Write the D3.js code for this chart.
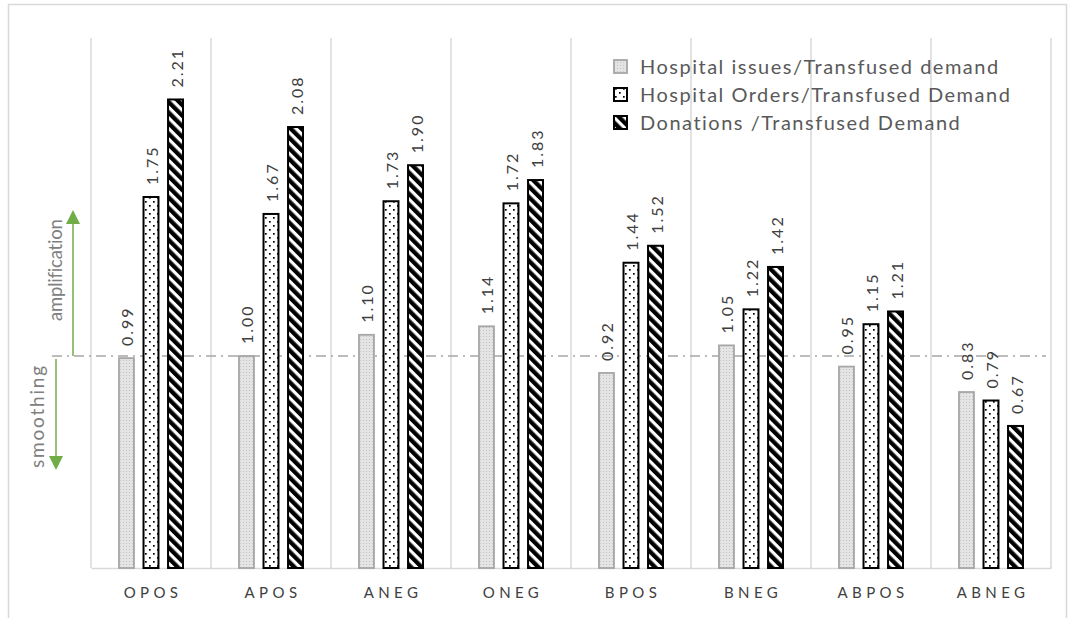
<!DOCTYPE html>
<html>
<head>
<meta charset="utf-8">
<script src="https://cdn.jsdelivr.net/npm/d3@7"></script>
<style>
  body { margin: 0; background: #fff; }
  text { font-family: Lato, "Open Sans", sans-serif; }
</style>
</head>
<body>
<div id="chart"></div>
<script>
const width = 1071;
const height = 618;

// data
const categories = ["OPOS", "APOS", "ANEG", "ONEG", "BPOS", "BNEG", "ABPOS", "ABNEG"];
const seriesNames = ["Hospital issues/Transfused demand", "Hospital Orders/Transfused Demand", "Donations /Transfused Demand"];
const issues = [0.99, 1.00, 1.10, 1.14, 0.92, 1.05, 0.95, 0.83];
const orders = [1.75, 1.67, 1.73, 1.72, 1.44, 1.22, 1.15, 0.79];
const donations = [2.21, 2.08, 1.90, 1.83, 1.52, 1.42, 1.21, 0.67];
const referenceValue = 1;
const series = [issues, orders, donations];

const svg = d3.select("#chart").append("svg")
  .attr("width", width)
  .attr("height", height);

const defs = svg.append("defs");

// light dotted fill for issues
const p1 = defs.append("pattern").attr("id", "pIssues")
  .attr("width", 3).attr("height", 3).attr("patternUnits", "userSpaceOnUse");
p1.append("rect").attr("width", 3).attr("height", 3).attr("fill", "#e4e4e4");
p1.append("rect").attr("width", 1).attr("height", 1).attr("fill", "#c4c4c4");

// black dots on white for orders
const p2 = defs.append("pattern").attr("id", "pOrders")
  .attr("width", 8).attr("height", 8).attr("patternUnits", "userSpaceOnUse");
p2.append("rect").attr("width", 8).attr("height", 8).attr("fill", "#fff");
p2.append("rect").attr("x", 1).attr("y", 1).attr("width", 1.7).attr("height", 1.7).attr("fill", "#000");
p2.append("rect").attr("x", 5).attr("y", 5).attr("width", 1.7).attr("height", 1.7).attr("fill", "#000");

// wide diagonal stripes for donations
const p3 = defs.append("pattern").attr("id", "pDonations")
  .attr("width", 7.5).attr("height", 7.5).attr("patternUnits", "userSpaceOnUse")
  .attr("patternTransform", "rotate(-45)");
p3.append("rect").attr("width", 7.5).attr("height", 7.5).attr("fill", "#fff");
p3.append("rect").attr("width", 4.3).attr("height", 7.5).attr("fill", "#000");

const fills = ["url(#pIssues)", "url(#pOrders)", "url(#pDonations)"];
const strokes = ["#a6a6a6", "#000", "#000"];
const strokeW = [1.8, 2, 2];

// outer frame
svg.append("rect")
  .attr("x", 8.5).attr("y", 4.5)
  .attr("width", 1058).attr("height", 620)
  .attr("fill", "none").attr("stroke", "#d9d9d9").attr("stroke-width", 1.5);

const x = d3.scaleBand().domain(categories).range([91, 1051]);
const y = d3.scaleLinear().domain([0, 2.5]).range([568, 38]);
const xs = d3.scaleBand().domain(d3.range(3)).range([-32, 32]).paddingInner(0.39).paddingOuter(0);

// category separators
svg.append("g").selectAll("line")
  .data(categories.concat(["end"]))
  .join("line")
  .attr("x1", (d, i) => 91 + i * x.bandwidth())
  .attr("x2", (d, i) => 91 + i * x.bandwidth())
  .attr("y1", y(2.5)).attr("y2", y(0))
  .attr("stroke", "#d9d9d9").attr("stroke-width", 1.5);

// axis line + category labels
const xAxis = svg.append("g")
  .attr("transform", `translate(0,${y(0)})`)
  .call(d3.axisBottom(x).tickSize(0).tickPadding(19));
xAxis.select(".domain").attr("stroke", "#d9d9d9").attr("stroke-width", 1.5);
xAxis.selectAll("text")
  .attr("font-family", "Lato, 'Open Sans', sans-serif")
  .attr("font-size", 15)
  .attr("letter-spacing", "4.4px")
  .attr("dx", "2px")
  .attr("fill", "#404040");

// reference line at 1.0
svg.append("line")
  .attr("x1", 52).attr("x2", 1046)
  .attr("y1", y(referenceValue)).attr("y2", y(referenceValue))
  .attr("stroke", "#a6a6a6").attr("stroke-width", 1.5)
  .attr("stroke-dasharray", "10,5,2,5");

// bars
series.forEach((vals, s) => {
  const g = svg.append("g");
  g.selectAll("rect")
    .data(vals)
    .join("rect")
    .attr("x", (d, i) => x(categories[i]) + x.bandwidth() / 2 + xs(s))
    .attr("width", xs.bandwidth())
    .attr("y", d => y(d))
    .attr("height", d => y(0) - y(d))
    .attr("fill", fills[s])
    .attr("stroke", strokes[s])
    .attr("stroke-width", strokeW[s]);

  g.selectAll("text")
    .data(vals)
    .join("text")
    .attr("transform", (d, i) => {
      const cx = x(categories[i]) + x.bandwidth() / 2 + xs(s) + xs.bandwidth() / 2 + 7;
      return `translate(${cx},${y(d) - 12}) rotate(-90)`;
    })
    .attr("font-size", 16)
    .attr("letter-spacing", "2px")
    .attr("fill", "#404040")
    .text(d => d.toFixed(2));
});

// legend
const legend = svg.append("g").attr("transform", "translate(614,59)");
seriesNames.forEach((name, s) => {
  const row = legend.append("g").attr("transform", `translate(0,${s * 28})`);
  row.append("rect")
    .attr("x", 0).attr("y", 1)
    .attr("width", 13).attr("height", 13)
    .attr("fill", fills[s])
    .attr("stroke", strokes[s]).attr("stroke-width", strokeW[s]);
  row.append("text")
    .attr("x", 26).attr("y", 15)
    .attr("font-size", 20)
    .attr("letter-spacing", "1.5px")
    .attr("fill", "#595959")
    .text(name);
});

// amplification / smoothing arrows
const green = "#70ad47";
const arr = svg.append("g");
arr.append("line")
  .attr("x1", 73).attr("x2", 73)
  .attr("y1", y(referenceValue)).attr("y2", 222)
  .attr("stroke", green).attr("stroke-width", 1.5);
arr.append("path").attr("d", "M66,224 L80,224 L73,210 Z").attr("fill", green);
arr.append("line")
  .attr("x1", 56).attr("x2", 56)
  .attr("y1", y(referenceValue) + 3).attr("y2", 458)
  .attr("stroke", green).attr("stroke-width", 1.5);
arr.append("path").attr("d", "M49,456 L63,456 L56,470 Z").attr("fill", green);

arr.append("text")
  .attr("transform", `translate(62,321) rotate(-90)`)
  .attr("font-size", 18.5)
  .attr("letter-spacing", "-0.2px")
  .attr("fill", "#808080")
  .text("amplification");
arr.append("text")
  .attr("transform", `translate(44,468) rotate(-90)`)
  .attr("font-size", 19)
  .attr("letter-spacing", "1.8px")
  .attr("fill", "#808080")
  .text("smoothing");
</script>
</body>
</html>
